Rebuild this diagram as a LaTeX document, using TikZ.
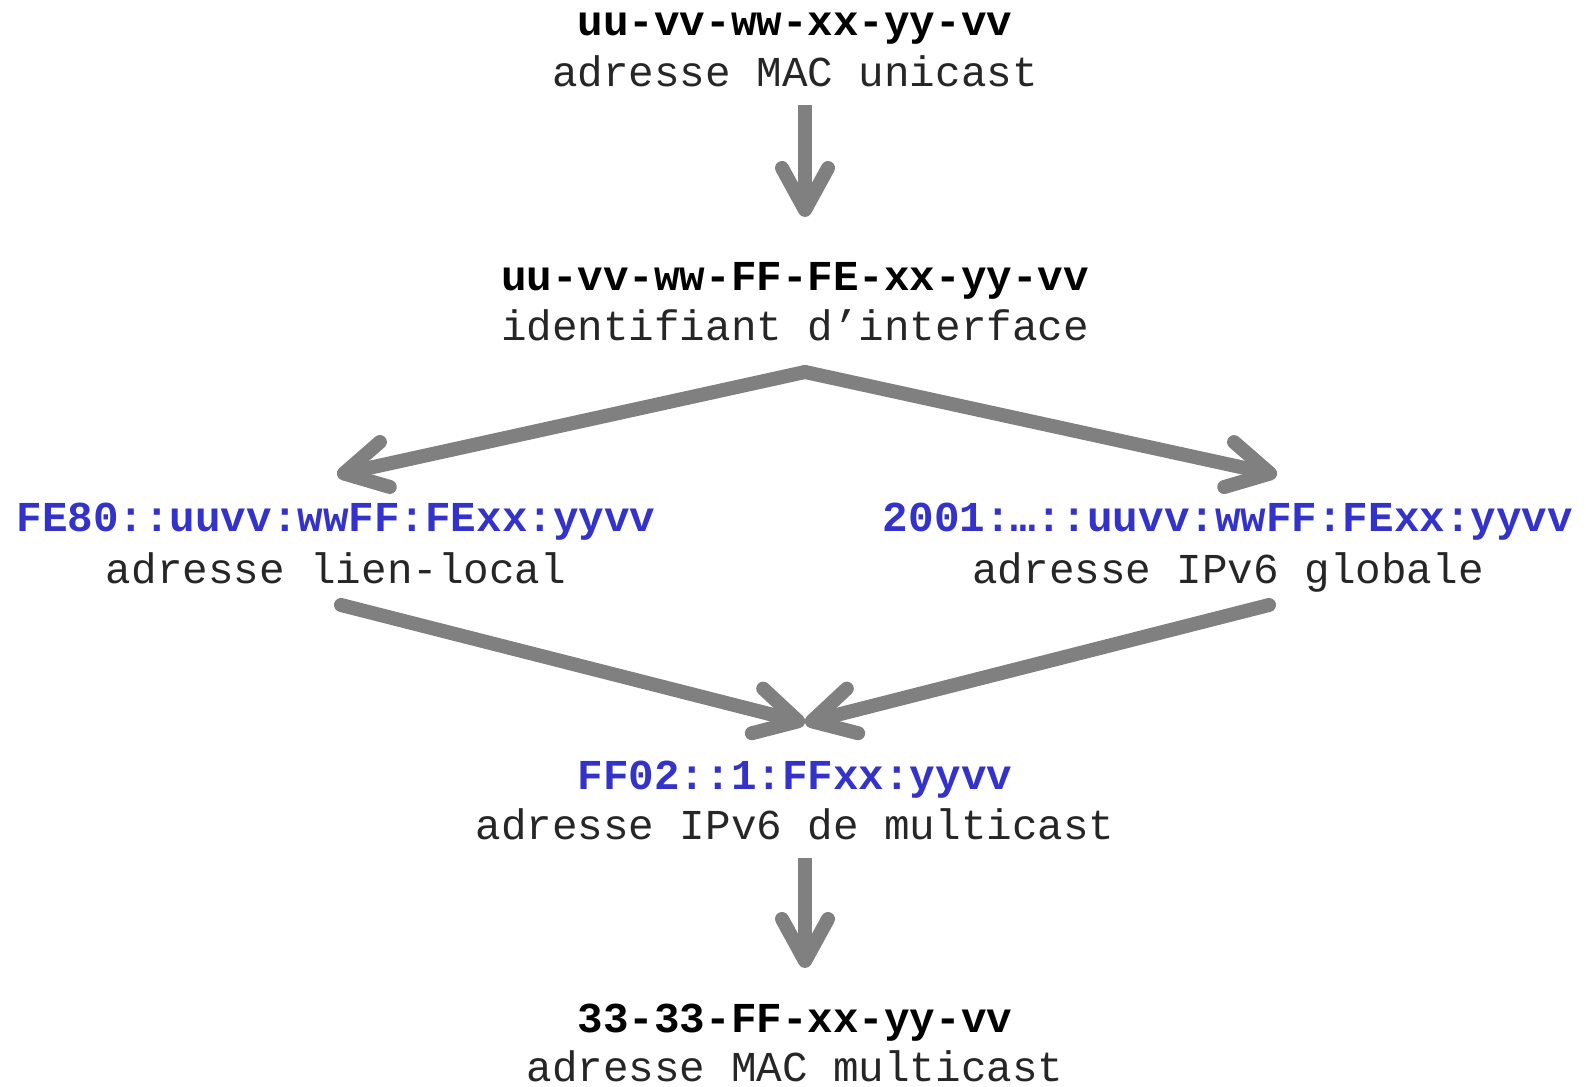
\documentclass[tikz,border=0pt]{standalone}
\usepackage{fontspec}
\newfontfamily\cour{Liberation Mono}
\usetikzlibrary{arrows.meta,calc}
\definecolor{addrblue}{RGB}{51,51,204}
\definecolor{arrgray}{RGB}{128,128,128}
\begin{document}
\begin{tikzpicture}[x=1pt,y=-1pt,
  every node/.style={inner sep=0pt, anchor=base, font=\cour\fontsize{42.6}{50}\selectfont, text=black!85},
  addr/.style={font=\cour\bfseries\fontsize{42.6}{50}\selectfont, text=black},
  blueaddr/.style={addr, text=addrblue},
  conn/.style={draw=arrgray, line width=14pt,
    -{Straight Barb[length=42pt,width=46pt,line cap=round,line join=round]}},
  diag/.style={conn, line cap=round}]
\useasboundingbox (0,0) rectangle (1586,1086);
\node[addr] (macu) at (795,36) {uu-vv-ww-xx-yy-vv};
\node (macul) at (795,87) {adresse MAC unicast};
\node[addr] (iid) at (795,290) {uu-vv-ww-FF-FE-xx-yy-vv};
\node (iidl) at (795,340) {identifiant d’interface};
\node[blueaddr] (ll) at (336,531) {FE80::uuvv:wwFF:FExx:yyvv};
\node (lll) at (336,583) {adresse lien-local};
\node[blueaddr] (gl) at (1228,531) {2001:…::uuvv:wwFF:FExx:yyvv};
\node (gll) at (1228,583) {adresse IPv6 globale};
\node[blueaddr] (mc) at (795,789) {FF02::1:FFxx:yyvv};
\node (mcl) at (795,839) {adresse IPv6 de multicast};
\node[addr] (macm) at (795,1032) {33-33-FF-xx-yy-vv};
\node (macml) at (795,1081) {adresse MAC multicast};
\draw[conn] ($(macul.base)+(10,18)$) -- ($(iid.base)+(10,-73)$);
\draw[diag] ($(iidl.base)+(10,32)$) -- ($(ll.base)+(1,-56)$);
\draw[diag] ($(iidl.base)+(10,32)$) -- ($(gl.base)+(49,-56)$);
\draw[diag] ($(lll.base)+(5,22)$) -- ($(mc.base)+(10,-66)$);
\draw[diag] ($(gll.base)+(41,22)$) -- ($(mc.base)+(10,-66)$);
\draw[conn] ($(mcl.base)+(10,19)$) -- ($(macm.base)+(10,-64)$);
\end{tikzpicture}
\end{document}
